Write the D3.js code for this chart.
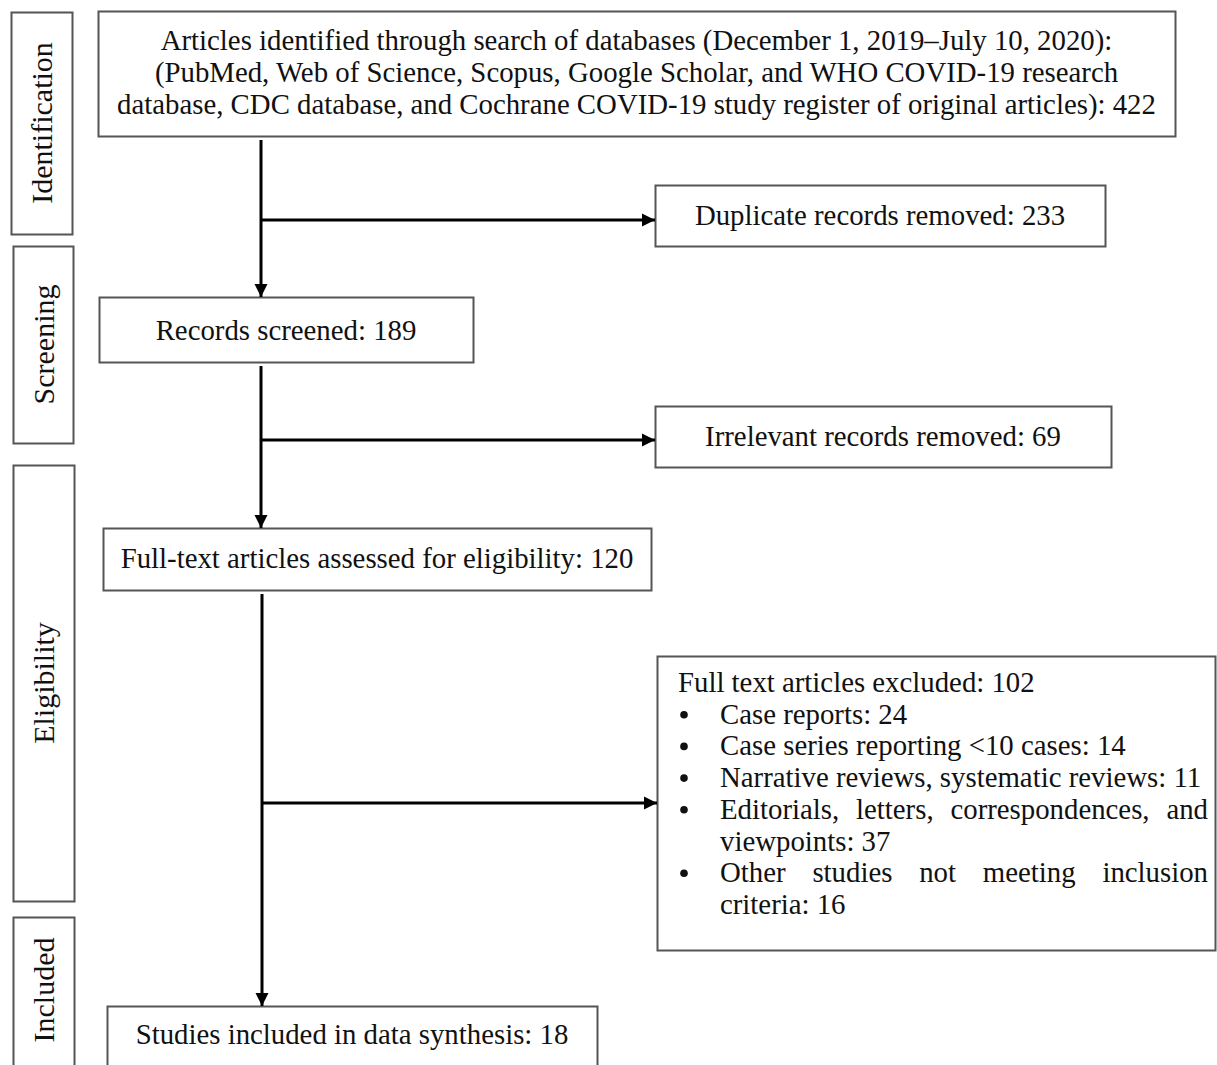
<!DOCTYPE html>
<html>
<head>
<meta charset="utf-8">
<script src="https://cdn.jsdelivr.net/npm/d3@7"></script>
<style>
  html, body { margin: 0; padding: 0; background: #fff; }
  svg { display: block; }
  text { font-family: "Liberation Serif", "Times New Roman", serif; fill: #111; }
</style>
</head>
<body>
<svg id="chart" width="1217" height="1065"></svg>
<script>
// ---------- DATA ----------
const stages = ["Identification", "Screening", "Eligibility", "Included"];

const identifiedLines = [
  "Articles identified through search of databases (December 1, 2019\u2013July 10, 2020):",
  "(PubMed, Web of Science, Scopus, Google Scholar, and WHO COVID-19 research",
  "database, CDC database, and Cochrane COVID-19 study register of original articles):"
];
const identifiedCount = 422;

const flowLabels = ["Records screened", "Full-text articles assessed for eligibility", "Studies included in data synthesis"];
const flowCounts = [189, 120, 18];

const removedLabels = ["Duplicate records removed", "Irrelevant records removed", "Full text articles excluded"];
const removedCounts = [233, 69, 102];

const exclusionReasons = [
  "Case reports",
  "Case series reporting <10 cases",
  "Narrative reviews, systematic reviews",
  "Editorials, letters, correspondences, and viewpoints",
  "Other studies not meeting inclusion criteria"
];
const exclusionCounts = [24, 14, 11, 37, 16];

// ---------- LAYOUT ----------
const FONT = 28.8;
const svg = d3.select("#chart");
const boxStroke = "#555";

const stageBoxes = [
  {x: 11, y: 12, w: 61, h: 222},
  {x: 13, y: 246, w: 60, h: 197},
  {x: 13, y: 465, w: 61, h: 436},
  {x: 13, y: 917, w: 61, h: 170}
];

const mainBox = {x: 98, y: 11, w: 1077, h: 125};
const flowBoxes = [
  {x: 99, y: 297, w: 374, h: 65},
  {x: 103, y: 528, w: 548, h: 62},
  {x: 107, y: 1006, w: 490, h: 80}
];
const removedBoxes = [
  {x: 655, y: 185, w: 450, h: 61},
  {x: 655, y: 406, w: 456, h: 61},
  {x: 657, y: 656, w: 558, h: 294}
];

// arrow marker
svg.append("defs").append("marker")
  .attr("id", "arrow")
  .attr("viewBox", "0 0 10 10")
  .attr("refX", 10).attr("refY", 5)
  .attr("markerWidth", 4.6).attr("markerHeight", 4.4)
  .attr("markerUnits", "strokeWidth")
  .attr("orient", "auto")
  .append("path").attr("d", "M0,0 L10,5 L0,10 Z").attr("fill", "#000");

function rect(b) {
  svg.append("rect")
    .attr("x", b.x + 0.5).attr("y", b.y + 0.5)
    .attr("width", b.w).attr("height", b.h)
    .attr("fill", "#fff").attr("stroke", boxStroke).attr("stroke-width", 2);
}

// stage boxes
stageBoxes.forEach((b, i) => {
  rect(b);
  const cx = b.x + b.w / 2;
  const cy = i === 3 ? 990 : b.y + b.h / 2;
  svg.append("text")
    .attr("transform", `translate(${cx},${cy}) rotate(-90)`)
    .attr("text-anchor", "middle")
    .attr("dominant-baseline", "central")
    .attr("font-size", 30)
    .text(stages[i]);
});

// main box
rect(mainBox);
identifiedLines.forEach((t, i) => {
  svg.append("text")
    .attr("x", mainBox.x + mainBox.w / 2)
    .attr("y", 40 + i * 32)
    .attr("text-anchor", "middle")
    .attr("dominant-baseline", "central")
    .attr("font-size", FONT)
    .text(i === identifiedLines.length - 1 ? `${t} ${identifiedCount}` : t);
});

// flow boxes
const flowTextY = [330, 558, 1034];
flowBoxes.forEach((b, i) => {
  rect(b);
  svg.append("text")
    .attr("x", b.x + b.w / 2).attr("y", flowTextY[i])
    .attr("text-anchor", "middle").attr("dominant-baseline", "central")
    .attr("font-size", FONT)
    .text(`${flowLabels[i]}: ${flowCounts[i]}`);
});

// removed boxes
const removedTextY = [215, 436];
removedBoxes.forEach((b, i) => {
  rect(b);
  if (i < 2) {
    svg.append("text")
      .attr("x", b.x + b.w / 2).attr("y", removedTextY[i])
      .attr("text-anchor", "middle").attr("dominant-baseline", "central")
      .attr("font-size", FONT)
      .text(`${removedLabels[i]}: ${removedCounts[i]}`);
  }
});

// exclusion box contents
const lineH = 31.7;
let ly = 682;
svg.append("text")
  .attr("x", 678).attr("y", ly)
  .attr("dominant-baseline", "central").attr("font-size", FONT)
  .text(`${removedLabels[2]}: ${removedCounts[2]}`);

const textLeft = 720, textRight = 1208;
const maxW = textRight - textLeft;
const measure = svg.append("text").attr("font-size", FONT).attr("x", -1000).attr("y", -1000);
function w(s) { measure.text(s); return measure.node().getComputedTextLength(); }

exclusionReasons.forEach((r, i) => {
  ly += lineH;
  svg.append("circle").attr("cx", 684).attr("cy", ly + 1).attr("r", 3.8).attr("fill", "#111");
  const words = `${r}: ${exclusionCounts[i]}`.split(" ");
  const lines = [];
  let cur = [];
  words.forEach(wd => {
    const trial = cur.concat([wd]).join(" ");
    if (cur.length && w(trial) > maxW) { lines.push(cur); cur = [wd]; }
    else cur.push(wd);
  });
  if (cur.length) lines.push(cur);
  lines.forEach((ln, li) => {
    if (li > 0) ly += lineH;
    const justify = li < lines.length - 1 && ln.length > 1;
    if (!justify) {
      svg.append("text").attr("x", textLeft).attr("y", ly)
        .attr("dominant-baseline", "central").attr("font-size", FONT)
        .text(ln.join(" "));
    } else {
      const widths = ln.map(w);
      const total = d3.sum(widths);
      const gap = (maxW - total) / (ln.length - 1);
      let x = textLeft;
      ln.forEach((wd, k) => {
        svg.append("text").attr("x", x).attr("y", ly)
          .attr("dominant-baseline", "central").attr("font-size", FONT)
          .text(wd);
        x += widths[k] + gap;
      });
    }
  });
});
measure.remove();

// connectors
function line(x1, y1, x2, y2, arrow) {
  const l = svg.append("line")
    .attr("x1", x1).attr("y1", y1).attr("x2", x2).attr("y2", y2)
    .attr("stroke", "#000").attr("stroke-width", 3);
  if (arrow) l.attr("marker-end", "url(#arrow)");
}
line(261, 140, 261, flowBoxes[0].y, true);
line(261, 220, removedBoxes[0].x, 220, true);
line(261, 366, 261, flowBoxes[1].y, true);
line(261, 440, removedBoxes[1].x, 440, true);
line(262, 594, 262, flowBoxes[2].y, true);
line(262, 803, removedBoxes[2].x, 803, true);
</script>
</body>
</html>
